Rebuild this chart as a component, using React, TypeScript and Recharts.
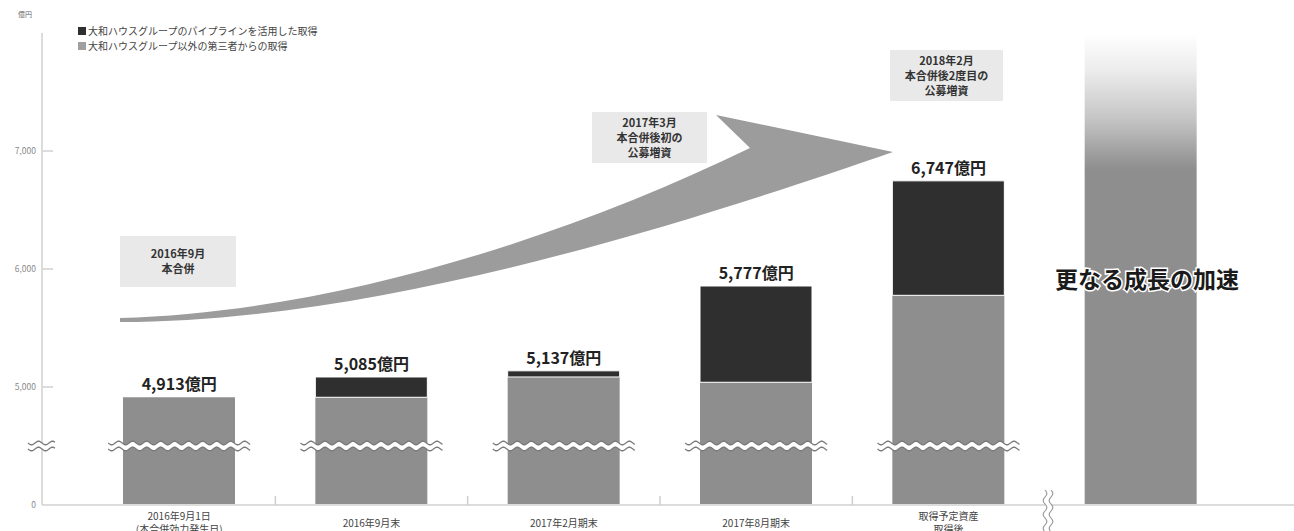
import React from "react";
import { BarChart, Bar, XAxis, YAxis, ReferenceDot } from "recharts";

const CHART_W = 1294;
const CHART_H = 531;
const FONT = "'Noto Sans CJK JP', 'Noto Sans', sans-serif";

// the value axis is broken: its floor is drawn as "0"
const AXIS_FLOOR = 4000;
const BREAK_AT = 4500;
const AXIS_TOP = 8000;

const categories = ["2016-09-01", "2016-09", "2017-02", "2017-08", "planned", "future"];
const tickLines = [
  ["2016年9月1日", "(本合併効力発生日)"],
  ["2016年9月末"],
  ["2017年2月期末"],
  ["2017年8月期末"],
  ["取得予定資産", "取得後"],
  [],
];
const baseAssets = [4913, 4913, 5085, 5040, 5777, null];
const addedAssets = [0, 172, 52, 816, 970, null];
const futureGrowth = [null, null, null, null, null, AXIS_TOP];
const totalLabels = ["4,913億円", "5,085億円", "5,137億円", "5,777億円", "6,747億円", ""];
const yTicks = [4000, 4500, 5000, 6000, 7000];
const yTickLabels: Record<number, string> = { 4000: "0", 5000: "5,000", 6000: "6,000", 7000: "7,000" };

const legendItems = [
  { text: "大和ハウスグループのパイプラインを活用した取得", color: "#2f2f2f" },
  { text: "大和ハウスグループ以外の第三者からの取得", color: "#a0a0a0" },
];

const callouts = [
  { x: 120, y: 236, w: 116, h: 51, lines: ["2016年9月", "本合併"] },
  { x: 592, y: 112, w: 115, h: 51, lines: ["2017年3月", "本合併後初の", "公募増資"] },
  { x: 890, y: 50, w: 113, h: 51, lines: ["2018年2月", "本合併後2度目の", "公募増資"] },
];

const data = categories.map((c, i) => ({
  category: c,
  base: baseAssets[i],
  added: addedAssets[i],
  future: futureGrowth[i],
}));

const wavePoints = (from: number, to: number, at: number, amp: number, len: number) => {
  const pts: [number, number][] = [];
  for (let t = from; t <= to + 0.01; t += 1) {
    pts.push([t, at + amp * Math.sin(((t - from) / len) * Math.PI * 2)]);
  }
  return pts;
};

// horizontal "≈" break band
const HBreak = ({ x0, x1, y }: { x0: number; x1: number; y: number }) => {
  const top = wavePoints(x0, x1, y - 3, 1.8, 14);
  const bot = wavePoints(x0, x1, y + 3, 1.8, 14);
  const line = (p: [number, number][]) => p.map((q, i) => (i ? "L" : "M") + q[0] + "," + q[1].toFixed(2)).join("");
  const poly = line(top) + bot.slice().reverse().map((q) => "L" + q[0] + "," + q[1].toFixed(2)).join("") + "Z";
  return (
    <g>
      <path d={poly} fill="#fff" />
      <path d={line(top)} fill="none" stroke="#7a7a7a" strokeWidth={1.3} />
      <path d={line(bot)} fill="none" stroke="#7a7a7a" strokeWidth={1.3} />
    </g>
  );
};

// vertical break on the category axis
const VBreak = ({ x, y0, y1 }: { x: number; y0: number; y1: number }) => {
  const mk = (off: number) =>
    wavePoints(y0, y1, x + off, 1.8, 14)
      .map((q, i) => (i ? "L" : "M") + q[1].toFixed(2) + "," + q[0])
      .join("");
  return (
    <g>
      <rect x={x - 3} y={y0} width={6} height={y1 - y0} fill="#fff" />
      <path d={mk(-3)} fill="none" stroke="#9a9a9a" strokeWidth={1.2} />
      <path d={mk(3)} fill="none" stroke="#9a9a9a" strokeWidth={1.2} />
    </g>
  );
};

const BreakDot = (props: any) => {
  const { cx, cy } = props;
  if (cx == null || cy == null) return <g />;
  return <HBreak x0={cx - 71} x1={cx + 71} y={cy} />;
};

const TotalDot = ({ cx, cy, text }: any) => {
  if (cx == null || cy == null) return <g />;
  return (
    <text x={cx} y={cy - 7} textAnchor="middle" fontSize={16} fontWeight={700} fill="#222" fontFamily={FONT}>
      {text}
    </text>
  );
};

const YTick = (props: any) => {
  const { x, y, payload } = props;
  if (payload.value === BREAK_AT) return <HBreak x0={x - 14} x1={x + 13} y={y} />;
  return (
    <g>
      <text x={x - 6} y={y} dy={3} textAnchor="end" fontSize={8.5} fill="#8a8a8a" fontFamily={FONT}>
        {yTickLabels[payload.value]}
      </text>
      {payload.value !== AXIS_FLOOR && <line x1={x + 1} x2={x + 11} y1={y} y2={y} stroke="#d0d0d0" strokeWidth={1.5} />}
    </g>
  );
};

const XTick = (props: any) => {
  const { x, y, payload, index } = props;
  const i = categories.indexOf(payload.value);
  const lines = tickLines[i] || [];
  const off = payload.offset || 0;
  return (
    <g>
      {index < 4 && <line x1={x + off} x2={x + off} y1={y} y2={y - 9} stroke="#cfcfcf" strokeWidth={1.5} />}
      {lines.map((l, k) => (
        <text
          key={k}
          x={x}
          y={y + (lines.length > 1 ? 15 + k * 13 : 22)}
          textAnchor="middle"
          fontSize={10}
          fill="#444"
          fontFamily={FONT}
        >
          {l}
        </text>
      ))}
    </g>
  );
};

export default function App() {
  return (
    <div style={{ position: "absolute", left: 0, top: 0, width: CHART_W, height: CHART_H, background: "#fff", fontFamily: FONT }}>
      <BarChart width={CHART_W} height={CHART_H} data={data} margin={{ top: 33, right: 0, bottom: 0, left: 0 }}>
        <defs>
          <linearGradient id="fadeUp" x1="0" y1="0" x2="0" y2="1">
            <stop offset="0" stopColor="#ffffff" />
            <stop offset="0.08" stopColor="#ececec" />
            <stop offset="0.18" stopColor="#c6c6c6" />
            <stop offset="0.26" stopColor="#9c9c9c" />
            <stop offset="0.29" stopColor="#8e8e8e" />
            <stop offset="1" stopColor="#8e8e8e" />
          </linearGradient>
        </defs>
        <XAxis
          dataKey="category"
          height={26}
          padding={{ left: 41, right: 57 }}
          axisLine={{ stroke: "#dcdcdc", strokeWidth: 2 }}
          tickLine={false}
          tickSize={0}
          tickMargin={0}
          interval={0}
          tick={<XTick />}
        />
        <YAxis
          type="number"
          width={42}
          domain={[AXIS_FLOOR, AXIS_TOP]}
          allowDataOverflow
          ticks={yTicks}
          interval={0}
          axisLine={{ stroke: "#dcdcdc", strokeWidth: 2 }}
          tickLine={false}
          tickSize={0}
          tickMargin={0}
          tick={<YTick />}
        />
        <Bar dataKey="base" stackId="s" fill="#8e8e8e" barSize={112} isAnimationActive={false} />
        <Bar dataKey="added" stackId="s" fill="#2f2f2f" stroke="#ffffff" strokeWidth={1} barSize={112} isAnimationActive={false} />
        <Bar dataKey="future" stackId="s" fill="url(#fadeUp)" barSize={112} isAnimationActive={false} />
        {categories.slice(0, 5).map((c) => (
          <ReferenceDot key={"b" + c} x={c} y={BREAK_AT} r={1} shape={<BreakDot />} />
        ))}
        {categories.slice(0, 5).map((c, i) => (
          <ReferenceDot
            key={"t" + c}
            x={c}
            y={(baseAssets[i] || 0) + (addedAssets[i] || 0)}
            r={1}
            shape={<TotalDot text={totalLabels[i]} />}
          />
        ))}
      </BarChart>

      <svg width={CHART_W} height={CHART_H} style={{ position: "absolute", left: 0, top: 0, pointerEvents: "none" }}>
        <text x={18} y={17} fontSize={7} fill="#666" fontFamily={FONT}>億円</text>
        {legendItems.map((l, i) => (
          <g key={i}>
            <rect x={78} y={27 + i * 15} width={8} height={8} fill={l.color} />
            <text x={88} y={35 + i * 15} fontSize={10} fill="#444" fontFamily={FONT}>{l.text}</text>
          </g>
        ))}
        <path
          d="M120,318 C330,312 560,240 750,148 L716,115 L893,152 C690,222 380,322 120,322 Z"
          fill="#9c9c9c"
        />
        {callouts.map((c, i) => (
          <g key={i}>
            <rect x={c.x} y={c.y} width={c.w} height={c.h} fill="#e9e9e9" />
            {c.lines.map((l, k) => (
              <text
                key={k}
                x={c.x + c.w / 2}
                y={c.y + c.h / 2 + (k - (c.lines.length - 1) / 2) * 15 + 4}
                textAnchor="middle"
                fontSize={11}
                fontWeight={600}
                fill="#333"
                fontFamily={FONT}
              >
                {l}
              </text>
            ))}
          </g>
        ))}
        <VBreak x={1048} y0={490} y1={531} />
        <text
          x={1147}
          y={288}
          textAnchor="middle"
          fontSize={23}
          fontWeight={700}
          fill="#1a1a1a"
          stroke="#ffffff"
          strokeWidth={3}
          paintOrder="stroke"
          fontFamily={FONT}
        >
          更なる成長の加速
        </text>
      </svg>
    </div>
  );
}
